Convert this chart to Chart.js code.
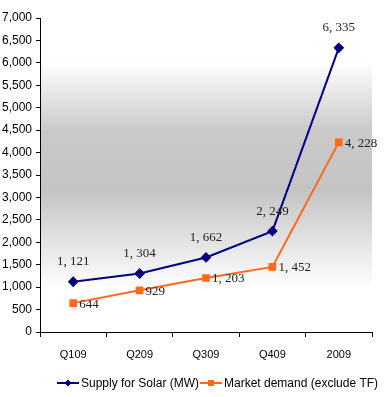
<!DOCTYPE html>
<html lang="en">
<head>
  <meta charset="UTF-8" />
  <title>Supply vs demand</title>
  <script src="https://cdn.jsdelivr.net/npm/chart.js"></script>
  <style>
    html, body { margin: 0; padding: 0; background: #fff; }
    #wrap { width: 386px; height: 397px; position: relative; }
  </style>
</head>
<body>
  <div id="wrap"><canvas id="chart"></canvas></div>
  <script>
    const categories = ['Q109', 'Q209', 'Q309', 'Q409', '2009'];
    const supply = [1121, 1304, 1662, 2249, 6335];
    const demand = [644, 929, 1203, 1452, 4228];
    const seriesNames = ['Supply for Solar (MW)', 'Market demand (exclude TF)'];

    const BLUE = '#000080';
    const ORANGE = '#ff6a1a';

    function fmt(v) {
      return v.toLocaleString('en-US').replace(',', ', ');
    }

    // grey band behind the plot area
    const bgPlugin = {
      id: 'bg',
      beforeDraw(chart) {
        const { ctx, chartArea: a } = chart;
        const g = ctx.createLinearGradient(0, a.top, 0, a.bottom);
        g.addColorStop(0, '#ffffff');
        g.addColorStop(0.14, '#ffffff');
        g.addColorStop(0.36, '#c9c9c9');
        g.addColorStop(0.55, '#c4c4c4');
        g.addColorStop(0.86, '#ffffff');
        g.addColorStop(1, '#ffffff');
        ctx.save();
        ctx.fillStyle = g;
        ctx.fillRect(a.left, a.top, a.right - a.left, a.bottom - a.top);
        ctx.restore();
      }
    };

    const labelPlugin = {
      id: 'vals',
      afterDatasetsDraw(chart) {
        const ctx = chart.ctx;
        ctx.save();
        ctx.font = '13px "Liberation Serif", "DejaVu Serif", serif';
        ctx.fillStyle = '#222';
        chart.getDatasetMeta(0).data.forEach((p, i) => {
          ctx.textAlign = 'center';
          ctx.textBaseline = 'middle';
          ctx.fillText(fmt(supply[i]), p.x, p.y - 20);
        });
        chart.getDatasetMeta(1).data.forEach((p, i) => {
          ctx.textAlign = 'left';
          ctx.textBaseline = 'middle';
          ctx.fillText(fmt(demand[i]), p.x + 6, p.y + 1);
        });
        ctx.restore();
      }
    };

    const legendPlugin = {
      id: 'legendLine',
      afterDraw(chart) {
        const ctx = chart.ctx;
        const y = 383;
        const items = [
          { x: 57, color: BLUE, shape: 'diamond', text: seriesNames[0] },
          { x: 200, color: ORANGE, shape: 'square', text: seriesNames[1] }
        ];
        ctx.save();
        items.forEach(it => {
          ctx.strokeStyle = it.color;
          ctx.lineWidth = 2;
          ctx.beginPath();
          ctx.moveTo(it.x, y);
          ctx.lineTo(it.x + 22, y);
          ctx.stroke();
          ctx.fillStyle = it.color;
          const cx = it.x + 11;
          if (it.shape === 'diamond') {
            ctx.beginPath();
            ctx.moveTo(cx, y - 3.5);
            ctx.lineTo(cx + 3.5, y);
            ctx.lineTo(cx, y + 3.5);
            ctx.lineTo(cx - 3.5, y);
            ctx.closePath();
            ctx.fill();
          } else {
            ctx.fillRect(cx - 3, y - 3, 6, 6);
          }
          ctx.fillStyle = '#000';
          ctx.font = '12px Arial, "Liberation Sans", sans-serif';
          ctx.textAlign = 'left';
          ctx.textBaseline = 'middle';
          ctx.fillText(it.text, it.x + 24, y + 1);
        });
        ctx.restore();
      }
    };

    const tickFont = { family: 'Arial, "Liberation Sans", sans-serif', size: 11 };

    new Chart(document.getElementById('chart').getContext('2d'), {
      type: 'line',
      data: {
        labels: categories,
        datasets: [
          {
            label: seriesNames[0],
            data: supply,
            borderColor: BLUE,
            backgroundColor: BLUE,
            borderWidth: 2,
            pointStyle: 'rectRot',
            pointRadius: 4,
            tension: 0
          },
          {
            label: seriesNames[1],
            data: demand,
            borderColor: ORANGE,
            backgroundColor: ORANGE,
            borderWidth: 2,
            pointStyle: 'rect',
            pointRadius: 4,
            tension: 0
          }
        ]
      },
      options: {
        responsive: true,
        maintainAspectRatio: false,
        animation: false,
        layout: { padding: { top: 18, right: 14, bottom: 35, left: 0 } },
        plugins: {
          legend: { display: false },
          tooltip: { enabled: false }
        },
        scales: {
          x: {
            offset: true,
            afterFit(s) { s.height = 30; },
            grid: { drawOnChartArea: false, drawTicks: true, tickLength: 5, color: '#000', offset: true },
            border: { color: '#000', width: 1 },
            ticks: { color: '#000', font: tickFont, padding: 11, maxRotation: 0 }
          },
          y: {
            min: 0,
            max: 7000,
            afterFit(s) { s.width = 40; },
            grid: { drawOnChartArea: false, drawTicks: true, tickLength: 4, color: '#000' },
            border: { color: '#000', width: 1 },
            ticks: {
              stepSize: 500,
              color: '#000',
              font: { family: 'Arial, "Liberation Sans", sans-serif', size: 12 },
              padding: 4,
              callback: v => v.toLocaleString('en-US')
            }
          }
        }
      },
      plugins: [bgPlugin, labelPlugin, legendPlugin]
    });
  </script>
</body>
</html>
